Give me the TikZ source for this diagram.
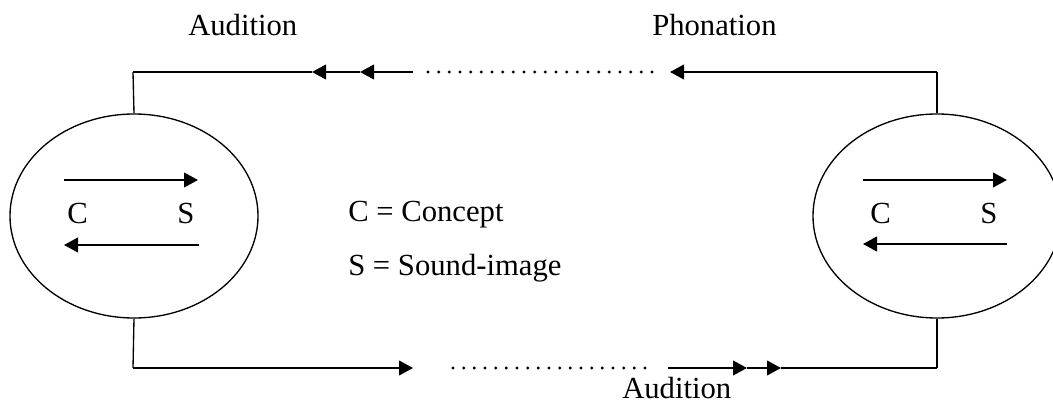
\documentclass[tikz,border=0pt]{standalone}
\usepackage{fontspec}
\setmainfont{Liberation Serif}
\usetikzlibrary{arrows.meta,shapes.geometric}
\begin{document}
\begin{tikzpicture}[x=0.75pt,y=-0.75pt,
  wire/.style={line width=1.5pt},
  post/.style={line width=1pt},
  flow/.style={line width=1.5pt,-{Triangle[length=10.5pt,width=11pt]}},
  dots/.style={line width=2.4pt,line cap=round,dash pattern=on 0pt off 8pt},
  brain/.style={ellipse,draw,line width=1pt,minimum width=186pt,minimum height=153pt,inner sep=0pt},
  lbl/.style={font=\fontsize{23}{27}\selectfont,inner sep=0pt,anchor=base west}]
\useasboundingbox (0,0) rectangle (1053,407);
\clip (0,0) rectangle (1053,407);

% the two speakers
\node[brain] (L) at (134,216) {};
\node[brain] (R) at (937,216) {};

% inner concept / sound-image arrows
\coordinate (L1a) at (64,180);  \coordinate (L1b) at (198,180);
\coordinate (L2a) at (199,245); \coordinate (L2b) at (64,245);
\coordinate (R1a) at (863,180); \coordinate (R1b) at (1007,180);
\coordinate (R2a) at (1007,244);\coordinate (R2b) at (863,244);
\draw[flow] (L1a) -- (L1b);
\draw[flow] (L2a) -- (L2b);
\draw[flow] (R1a) -- (R1b);
\draw[flow] (R2a) -- (R2b);
\node[lbl] (LC) at (67,223) {C};
\node[lbl] (LS) at (177,223) {S};
\node[lbl] (RC) at (870,223) {C};
\node[lbl] (RS) at (980,223) {S};

% upper circuit: right to left
\coordinate (TR) at (937,72);
\coordinate (T1) at (670,72);
\coordinate (T2) at (652,72);
\coordinate (T3) at (427,72);
\coordinate (T4) at (413,72);
\coordinate (T5) at (360,72);
\coordinate (T6) at (312,72);
\coordinate (TL) at (133,72);
\draw[post] (R.north) -- (TR);
\draw[flow] (TR) -- (T1);
\draw[dots] (T2) -- (T3);
\draw[flow] (T4) -- (T5);
\draw[flow] (T5) -- (T6);
\draw[wire] (T6) -- (TL);
\draw[post] (TL) -- (L.north);

% lower circuit: left to right
\coordinate (BL) at (133,368);
\coordinate (B1) at (413,368);
\coordinate (B2) at (453,368);
\coordinate (B3) at (647,368);
\coordinate (B4) at (668,368);
\coordinate (B5) at (747,368);
\coordinate (B6) at (781,368);
\coordinate (BR) at (937,368);
\draw[post] (L.south) -- (BL);
\draw[flow] (BL) -- (B1);
\draw[dots] (B2) -- (B3);
\draw[flow] (B4) -- (B5);
\draw[flow] (B5) -- (B6);
\draw[wire] (B6) -- (BR);
\draw[post] (BR) -- (R.south);

% labels
\node[lbl] (audA) at (188,35) {Audition};
\node[lbl] (phon) at (652,35) {Phonation};
\node[lbl] (audB) at (622,398) {Audition};
\node[lbl] (keyC) at (348,221) {C = Concept};
\node[lbl] (keyS) at (348,275) {S = Sound-image};
\end{tikzpicture}
\end{document}
